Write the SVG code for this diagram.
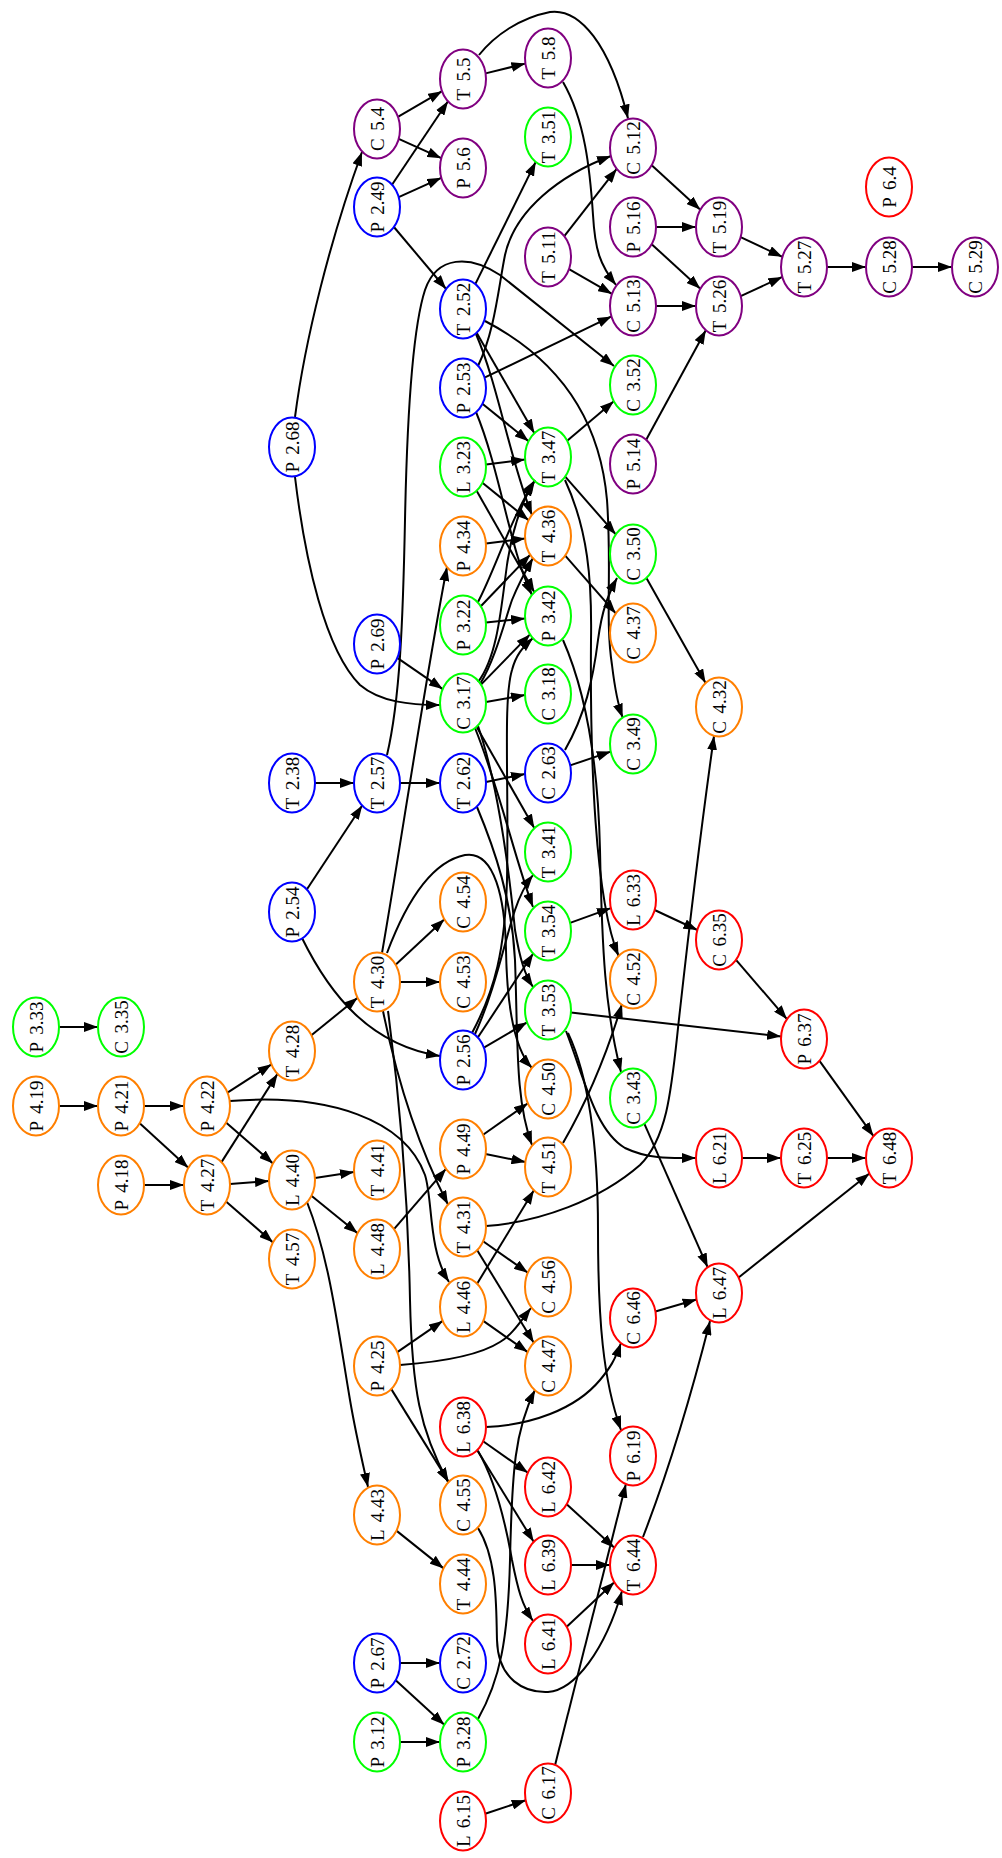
<svg xmlns="http://www.w3.org/2000/svg" width="1002" height="1858" viewBox="0 0 1002 1858">
<style>
.n ellipse{fill:none;stroke-width:2}
.pu{stroke:#800080}.bl{stroke:#0000ff}.gr{stroke:#00ff00}.or{stroke:#ff7f00}.rd{stroke:#ff0000}
.n text{font-family:"Liberation Serif",serif;font-size:19px;word-spacing:3px;text-anchor:middle;fill:#000}
#edges path{fill:none;stroke:#000;stroke-width:2;marker-end:url(#a)}
</style>
<defs>
<marker id="a" markerWidth="14" markerHeight="10" refX="14" refY="5" orient="auto" markerUnits="userSpaceOnUse"><path d="M0,0 L14,5 L0,10 z" fill="#000"/></marker>
</defs>
<rect width="1002" height="1858" fill="#fff"/>
<g id="edges">
<path d="M59,1027 L98,1027"/>
<path d="M59,1106 L98,1106"/>
<path d="M144,1106 L184,1106"/>
<path d="M139.7,1123.2 L188.3,1167.8"/>
<path d="M144,1185 L184,1185"/>
<path d="M227.5,1092.7 L271.5,1064.3"/>
<path d="M226,1122.6 L273,1163.4"/>
<path d="M230,1101 C330,1093 405,1120 425,1175 C433,1200 428,1250 449,1282"/>
<path d="M221.5,1162.1 L277.5,1073.9"/>
<path d="M230,1184 L269,1181"/>
<path d="M226,1201.6 L273,1242.4"/>
<path d="M311.4,1035.2 L357.6,997.8"/>
<path d="M315,1178 L354,1172"/>
<path d="M311.4,1195.8 L357.6,1233.2"/>
<path d="M307,1202 C330,1260 338,1330 350,1400 C356,1435 362,1460 368,1487"/>
<path d="M394,1229.2 L446,1168.8"/>
<path d="M315,783 L354,783"/>
<path d="M306.8,889.5 L362.2,805.5"/>
<path d="M302,938 C330,995 370,1045 440,1056"/>
<path d="M400,783 L440,783"/>
<path d="M387,755 C400,700 403,620 405,520 C407,420 412,330 425,290 C437,255 470,255 500,275 L614,366"/>
<path d="M486,782 L525,774"/>
<path d="M477,807 C495,850 512,900 515,960 C518,1040 515,1100 532,1145"/>
<path d="M397.3,657.9 L442.7,689.1"/>
<path d="M295,417 C305,340 330,240 362,152"/>
<path d="M295,477 C305,560 325,650 360,685 C380,702 410,705 440,705"/>
<path d="M392,184.7 L448,101.3"/>
<path d="M398.7,197.2 L441.3,177.8"/>
<path d="M393.9,227 L446.1,289"/>
<path d="M397.9,116.8 L442.1,91.2"/>
<path d="M398.7,138.8 L441.3,158.2"/>
<path d="M485.6,73.4 L525.4,63.6"/>
<path d="M479,55 C495,35 520,18 550,12 C580,8 610,45 628,118.5"/>
<path d="M563,82 C585,120 590,170 593,215 C595,250 600,265 616,285"/>
<path d="M564.3,236.1 L616.7,168.9"/>
<path d="M569,269.1 L612,293.9"/>
<path d="M651.7,165.2 L700.3,209.8"/>
<path d="M656,227 L696,227"/>
<path d="M651.7,244.2 L700.3,288.8"/>
<path d="M656,306 L696,306"/>
<path d="M646.2,439.8 L705.8,330.2"/>
<path d="M740.6,237.2 L782.4,256.8"/>
<path d="M740.7,296.1 L782.3,276.9"/>
<path d="M827,267 L866,267"/>
<path d="M912,267 L952,267"/>
<path d="M475.3,284.1 L535.7,161.9"/>
<path d="M478,366 C495,330 498,290 505,255 C515,210 560,175 611,156"/>
<path d="M484.5,377.6 L611.5,316.4"/>
<path d="M476.6,332.8 L534.4,433.2"/>
<path d="M482.4,403.8 L528.6,441.2"/>
<path d="M486,464.5 L525,459.5"/>
<path d="M476,334 C498,385 510,460 532,515"/>
<path d="M476,412 C500,470 510,550 532,595"/>
<path d="M482.4,482.8 L528.6,520.2"/>
<path d="M476.6,490.8 L534.4,592.2"/>
<path d="M486,543.5 L525,538.5"/>
<path d="M485,321 C560,360 600,420 607,500 C612,570 605,620 612,665 C615,690 618,705 622.7,717.7"/>
<path d="M567.2,440.7 L613.8,401.3"/>
<path d="M565.2,476.6 L615.8,534.4"/>
<path d="M565,480 C588,530 592,580 591,640 C590,760 595,900 618.6,956"/>
<path d="M563,640 C585,690 598,760 600,850 C602,950 605,1010 621,1072"/>
<path d="M565.2,555.6 L615.8,613.4"/>
<path d="M646.4,577.9 L705.6,683.1"/>
<path d="M478,602 C495,570 510,520 535,480"/>
<path d="M480.8,606.3 L530.2,554.7"/>
<path d="M486,622.5 L525,618.5"/>
<path d="M478,682 C495,660 500,620 505,580 C510,535 520,505 534,482"/>
<path d="M480,684 C495,660 505,620 512,600 C518,585 525,572 533,558"/>
<path d="M481,684.6 L530,634.4"/>
<path d="M486,702 L525,695"/>
<path d="M476.6,726.8 L534.4,828.2"/>
<path d="M475,728 C500,790 515,860 533,907"/>
<path d="M478,726 C500,790 510,880 515,930 C520,960 525,975 533,987"/>
<path d="M570.2,765.4 L610.8,751.6"/>
<path d="M565,750 C585,715 593,680 598,640 C602,610 608,595 617,578"/>
<path d="M570.1,922.9 L610.9,908.1"/>
<path d="M654.6,910 L697.4,930"/>
<path d="M736,959.8 L787,1019.2"/>
<path d="M819.5,1060.8 L873.5,1136.2"/>
<path d="M570.9,1012.6 L781.1,1036.4"/>
<path d="M566,1031 C585,1080 595,1130 625,1148 C650,1160 675,1158 696,1158"/>
<path d="M568,1033 C590,1080 598,1150 598,1230 C598,1320 603,1380 621,1430"/>
<path d="M742,1158 L781,1158"/>
<path d="M827,1158 L866,1158"/>
<path d="M483.9,1047.7 L527.1,1022.3"/>
<path d="M477.8,1037.5 L533.2,953.5"/>
<path d="M475,1034 C495,990 505,940 515,910 C520,895 525,885 533,875"/>
<path d="M472,1033 C495,990 505,950 507,880 C509,780 503,700 512,670 C516,655 522,648 533,638"/>
<path d="M483.1,1134.8 L527.9,1103.2"/>
<path d="M485.5,1154 L525.5,1162"/>
<path d="M395.6,964.7 L444.4,919.3"/>
<path d="M400,982 L440,982"/>
<path d="M382,953 C400,850 425,680 447,567"/>
<path d="M387,953 C405,905 430,862 465,855 C495,850 505,900 506,950 C507,1010 515,1050 532,1068"/>
<path d="M383,1011 C395,1070 415,1140 448,1204.6"/>
<path d="M388,1011 C400,1100 408,1200 410,1300 C412,1390 420,1430 448,1482"/>
<path d="M486,1226 C540,1222 600,1200 640,1165 C670,1135 672,1080 680,1010 C690,920 705,800 714,736"/>
<path d="M483.1,1241.2 L527.9,1272.8"/>
<path d="M477.2,1250.2 L533.8,1342.8"/>
<path d="M477.1,1283.7 L533.9,1190.3"/>
<path d="M483.3,1320.9 L527.7,1352.1"/>
<path d="M397.3,1352.1 L442.7,1320.9"/>
<path d="M400,1365 C440,1362 480,1355 500,1342 C512,1335 520,1322 531,1308"/>
<path d="M391.3,1389.1 L448.7,1481.9"/>
<path d="M396.4,1530.6 L443.6,1568.4"/>
<path d="M400,1663 L440,1663"/>
<path d="M395.7,1680.2 L444.3,1724.8"/>
<path d="M400,1742 L440,1742"/>
<path d="M478,1719 C500,1680 508,1640 510,1560 C512,1470 515,1430 535,1390"/>
<path d="M485.2,1813.7 L525.8,1800.3"/>
<path d="M555.1,1764.9 L625.9,1483.9"/>
<path d="M486,1427 C530,1425 575,1410 600,1380 C610,1368 615,1360 621,1343"/>
<path d="M483.1,1441.2 L527.9,1472.8"/>
<path d="M477.3,1450.2 L533.7,1541.8"/>
<path d="M478,1451 C495,1480 505,1520 512,1560 C518,1590 522,1605 533,1621"/>
<path d="M566.7,1504.2 L614.3,1547.8"/>
<path d="M571,1565 L610,1565"/>
<path d="M566.7,1626.8 L614.3,1582.2"/>
<path d="M478,1528 C498,1560 496,1610 497,1640 C498,1680 525,1693 548,1692 C575,1690 605,1650 622,1591"/>
<path d="M643,1537 C665,1480 690,1400 710,1321"/>
<path d="M655.4,1311.5 L696.6,1299.5"/>
<path d="M644.3,1123.7 L707.7,1267.3"/>
<path d="M738.6,1277.5 L869.4,1173.5"/>
<path d="M563,1143 C585,1105 605,1060 622,1004"/>
</g>
<g id="n-T5-5" class="n" transform="translate(463,79)"><ellipse class="pu" rx="23" ry="29.5"/><text transform="rotate(-90)" y="6.5">T 5.5</text></g>
<g id="n-C5-4" class="n" transform="translate(377,129)"><ellipse class="pu" rx="23" ry="29.5"/><text transform="rotate(-90)" y="6.5">C 5.4</text></g>
<g id="n-P5-6" class="n" transform="translate(463,168)"><ellipse class="pu" rx="23" ry="29.5"/><text transform="rotate(-90)" y="6.5">P 5.6</text></g>
<g id="n-T5-8" class="n" transform="translate(548,58)"><ellipse class="pu" rx="23" ry="29.5"/><text transform="rotate(-90)" y="6.5">T 5.8</text></g>
<g id="n-T5-11" class="n" transform="translate(548,257)"><ellipse class="pu" rx="23" ry="29.5"/><text transform="rotate(-90)" y="6.5">T 5.11</text></g>
<g id="n-C5-12" class="n" transform="translate(633,148)"><ellipse class="pu" rx="23" ry="29.5"/><text transform="rotate(-90)" y="6.5">C 5.12</text></g>
<g id="n-P5-16" class="n" transform="translate(633,227)"><ellipse class="pu" rx="23" ry="29.5"/><text transform="rotate(-90)" y="6.5">P 5.16</text></g>
<g id="n-C5-13" class="n" transform="translate(633,306)"><ellipse class="pu" rx="23" ry="29.5"/><text transform="rotate(-90)" y="6.5">C 5.13</text></g>
<g id="n-P5-14" class="n" transform="translate(633,464)"><ellipse class="pu" rx="23" ry="29.5"/><text transform="rotate(-90)" y="6.5">P 5.14</text></g>
<g id="n-T5-19" class="n" transform="translate(719,227)"><ellipse class="pu" rx="23" ry="29.5"/><text transform="rotate(-90)" y="6.5">T 5.19</text></g>
<g id="n-T5-26" class="n" transform="translate(719,306)"><ellipse class="pu" rx="23" ry="29.5"/><text transform="rotate(-90)" y="6.5">T 5.26</text></g>
<g id="n-T5-27" class="n" transform="translate(804,267)"><ellipse class="pu" rx="23" ry="29.5"/><text transform="rotate(-90)" y="6.5">T 5.27</text></g>
<g id="n-C5-28" class="n" transform="translate(889,267)"><ellipse class="pu" rx="23" ry="29.5"/><text transform="rotate(-90)" y="6.5">C 5.28</text></g>
<g id="n-C5-29" class="n" transform="translate(975,267)"><ellipse class="pu" rx="23" ry="29.5"/><text transform="rotate(-90)" y="6.5">C 5.29</text></g>
<g id="n-P2-49" class="n" transform="translate(377,207)"><ellipse class="bl" rx="23" ry="29.5"/><text transform="rotate(-90)" y="6.5">P 2.49</text></g>
<g id="n-T2-52" class="n" transform="translate(463,309)"><ellipse class="bl" rx="23" ry="29.5"/><text transform="rotate(-90)" y="6.5">T 2.52</text></g>
<g id="n-P2-53" class="n" transform="translate(463,388)"><ellipse class="bl" rx="23" ry="29.5"/><text transform="rotate(-90)" y="6.5">P 2.53</text></g>
<g id="n-P2-68" class="n" transform="translate(292,447)"><ellipse class="bl" rx="23" ry="29.5"/><text transform="rotate(-90)" y="6.5">P 2.68</text></g>
<g id="n-P2-69" class="n" transform="translate(377,644)"><ellipse class="bl" rx="23" ry="29.5"/><text transform="rotate(-90)" y="6.5">P 2.69</text></g>
<g id="n-T2-38" class="n" transform="translate(292,783)"><ellipse class="bl" rx="23" ry="29.5"/><text transform="rotate(-90)" y="6.5">T 2.38</text></g>
<g id="n-T2-57" class="n" transform="translate(377,783)"><ellipse class="bl" rx="23" ry="29.5"/><text transform="rotate(-90)" y="6.5">T 2.57</text></g>
<g id="n-T2-62" class="n" transform="translate(463,783)"><ellipse class="bl" rx="23" ry="29.5"/><text transform="rotate(-90)" y="6.5">T 2.62</text></g>
<g id="n-C2-63" class="n" transform="translate(548,773)"><ellipse class="bl" rx="23" ry="29.5"/><text transform="rotate(-90)" y="6.5">C 2.63</text></g>
<g id="n-P2-54" class="n" transform="translate(292,912)"><ellipse class="bl" rx="23" ry="29.5"/><text transform="rotate(-90)" y="6.5">P 2.54</text></g>
<g id="n-P2-56" class="n" transform="translate(463,1060)"><ellipse class="bl" rx="23" ry="29.5"/><text transform="rotate(-90)" y="6.5">P 2.56</text></g>
<g id="n-P2-67" class="n" transform="translate(377,1663)"><ellipse class="bl" rx="23" ry="29.5"/><text transform="rotate(-90)" y="6.5">P 2.67</text></g>
<g id="n-C2-72" class="n" transform="translate(463,1663)"><ellipse class="bl" rx="23" ry="29.5"/><text transform="rotate(-90)" y="6.5">C 2.72</text></g>
<g id="n-T3-51" class="n" transform="translate(548,137)"><ellipse class="gr" rx="23" ry="29.5"/><text transform="rotate(-90)" y="6.5">T 3.51</text></g>
<g id="n-C3-52" class="n" transform="translate(633,385)"><ellipse class="gr" rx="23" ry="29.5"/><text transform="rotate(-90)" y="6.5">C 3.52</text></g>
<g id="n-T3-47" class="n" transform="translate(548,457)"><ellipse class="gr" rx="23" ry="29.5"/><text transform="rotate(-90)" y="6.5">T 3.47</text></g>
<g id="n-L3-23" class="n" transform="translate(463,467)"><ellipse class="gr" rx="23" ry="29.5"/><text transform="rotate(-90)" y="6.5">L 3.23</text></g>
<g id="n-P3-22" class="n" transform="translate(463,625)"><ellipse class="gr" rx="23" ry="29.5"/><text transform="rotate(-90)" y="6.5">P 3.22</text></g>
<g id="n-C3-50" class="n" transform="translate(633,554)"><ellipse class="gr" rx="23" ry="29.5"/><text transform="rotate(-90)" y="6.5">C 3.50</text></g>
<g id="n-P3-42" class="n" transform="translate(548,616)"><ellipse class="gr" rx="23" ry="29.5"/><text transform="rotate(-90)" y="6.5">P 3.42</text></g>
<g id="n-C3-17" class="n" transform="translate(463,703)"><ellipse class="gr" rx="23" ry="29.5"/><text transform="rotate(-90)" y="6.5">C 3.17</text></g>
<g id="n-C3-18" class="n" transform="translate(548,694)"><ellipse class="gr" rx="23" ry="29.5"/><text transform="rotate(-90)" y="6.5">C 3.18</text></g>
<g id="n-C3-49" class="n" transform="translate(633,744)"><ellipse class="gr" rx="23" ry="29.5"/><text transform="rotate(-90)" y="6.5">C 3.49</text></g>
<g id="n-T3-41" class="n" transform="translate(548,852)"><ellipse class="gr" rx="23" ry="29.5"/><text transform="rotate(-90)" y="6.5">T 3.41</text></g>
<g id="n-T3-54" class="n" transform="translate(548,931)"><ellipse class="gr" rx="23" ry="29.5"/><text transform="rotate(-90)" y="6.5">T 3.54</text></g>
<g id="n-T3-53" class="n" transform="translate(548,1010)"><ellipse class="gr" rx="23" ry="29.5"/><text transform="rotate(-90)" y="6.5">T 3.53</text></g>
<g id="n-C3-43" class="n" transform="translate(633,1098)"><ellipse class="gr" rx="23" ry="29.5"/><text transform="rotate(-90)" y="6.5">C 3.43</text></g>
<g id="n-P3-33" class="n" transform="translate(36,1027)"><ellipse class="gr" rx="23" ry="29.5"/><text transform="rotate(-90)" y="6.5">P 3.33</text></g>
<g id="n-C3-35" class="n" transform="translate(121,1027)"><ellipse class="gr" rx="23" ry="29.5"/><text transform="rotate(-90)" y="6.5">C 3.35</text></g>
<g id="n-P3-12" class="n" transform="translate(377,1742)"><ellipse class="gr" rx="23" ry="29.5"/><text transform="rotate(-90)" y="6.5">P 3.12</text></g>
<g id="n-P3-28" class="n" transform="translate(463,1742)"><ellipse class="gr" rx="23" ry="29.5"/><text transform="rotate(-90)" y="6.5">P 3.28</text></g>
<g id="n-P4-34" class="n" transform="translate(463,546)"><ellipse class="or" rx="23" ry="29.5"/><text transform="rotate(-90)" y="6.5">P 4.34</text></g>
<g id="n-T4-36" class="n" transform="translate(548,536)"><ellipse class="or" rx="23" ry="29.5"/><text transform="rotate(-90)" y="6.5">T 4.36</text></g>
<g id="n-C4-37" class="n" transform="translate(633,633)"><ellipse class="or" rx="23" ry="29.5"/><text transform="rotate(-90)" y="6.5">C 4.37</text></g>
<g id="n-C4-32" class="n" transform="translate(719,707)"><ellipse class="or" rx="23" ry="29.5"/><text transform="rotate(-90)" y="6.5">C 4.32</text></g>
<g id="n-C4-54" class="n" transform="translate(463,902)"><ellipse class="or" rx="23" ry="29.5"/><text transform="rotate(-90)" y="6.5">C 4.54</text></g>
<g id="n-T4-30" class="n" transform="translate(377,982)"><ellipse class="or" rx="23" ry="29.5"/><text transform="rotate(-90)" y="6.5">T 4.30</text></g>
<g id="n-C4-53" class="n" transform="translate(463,982)"><ellipse class="or" rx="23" ry="29.5"/><text transform="rotate(-90)" y="6.5">C 4.53</text></g>
<g id="n-C4-52" class="n" transform="translate(633,979)"><ellipse class="or" rx="23" ry="29.5"/><text transform="rotate(-90)" y="6.5">C 4.52</text></g>
<g id="n-T4-28" class="n" transform="translate(292,1051)"><ellipse class="or" rx="23" ry="29.5"/><text transform="rotate(-90)" y="6.5">T 4.28</text></g>
<g id="n-P4-19" class="n" transform="translate(36,1106)"><ellipse class="or" rx="23" ry="29.5"/><text transform="rotate(-90)" y="6.5">P 4.19</text></g>
<g id="n-P4-21" class="n" transform="translate(121,1106)"><ellipse class="or" rx="23" ry="29.5"/><text transform="rotate(-90)" y="6.5">P 4.21</text></g>
<g id="n-P4-22" class="n" transform="translate(207,1106)"><ellipse class="or" rx="23" ry="29.5"/><text transform="rotate(-90)" y="6.5">P 4.22</text></g>
<g id="n-C4-50" class="n" transform="translate(548,1089)"><ellipse class="or" rx="23" ry="29.5"/><text transform="rotate(-90)" y="6.5">C 4.50</text></g>
<g id="n-P4-49" class="n" transform="translate(463,1149)"><ellipse class="or" rx="23" ry="29.5"/><text transform="rotate(-90)" y="6.5">P 4.49</text></g>
<g id="n-T4-41" class="n" transform="translate(377,1170)"><ellipse class="or" rx="23" ry="29.5"/><text transform="rotate(-90)" y="6.5">T 4.41</text></g>
<g id="n-T4-51" class="n" transform="translate(548,1167)"><ellipse class="or" rx="23" ry="29.5"/><text transform="rotate(-90)" y="6.5">T 4.51</text></g>
<g id="n-L4-40" class="n" transform="translate(292,1180)"><ellipse class="or" rx="23" ry="29.5"/><text transform="rotate(-90)" y="6.5">L 4.40</text></g>
<g id="n-P4-18" class="n" transform="translate(121,1185)"><ellipse class="or" rx="23" ry="29.5"/><text transform="rotate(-90)" y="6.5">P 4.18</text></g>
<g id="n-T4-27" class="n" transform="translate(207,1185)"><ellipse class="or" rx="23" ry="29.5"/><text transform="rotate(-90)" y="6.5">T 4.27</text></g>
<g id="n-T4-31" class="n" transform="translate(463,1227)"><ellipse class="or" rx="23" ry="29.5"/><text transform="rotate(-90)" y="6.5">T 4.31</text></g>
<g id="n-L4-48" class="n" transform="translate(377,1249)"><ellipse class="or" rx="23" ry="29.5"/><text transform="rotate(-90)" y="6.5">L 4.48</text></g>
<g id="n-T4-57" class="n" transform="translate(292,1259)"><ellipse class="or" rx="23" ry="29.5"/><text transform="rotate(-90)" y="6.5">T 4.57</text></g>
<g id="n-C4-56" class="n" transform="translate(548,1287)"><ellipse class="or" rx="23" ry="29.5"/><text transform="rotate(-90)" y="6.5">C 4.56</text></g>
<g id="n-L4-46" class="n" transform="translate(463,1307)"><ellipse class="or" rx="23" ry="29.5"/><text transform="rotate(-90)" y="6.5">L 4.46</text></g>
<g id="n-P4-25" class="n" transform="translate(377,1366)"><ellipse class="or" rx="23" ry="29.5"/><text transform="rotate(-90)" y="6.5">P 4.25</text></g>
<g id="n-C4-47" class="n" transform="translate(548,1366)"><ellipse class="or" rx="23" ry="29.5"/><text transform="rotate(-90)" y="6.5">C 4.47</text></g>
<g id="n-C4-55" class="n" transform="translate(463,1505)"><ellipse class="or" rx="23" ry="29.5"/><text transform="rotate(-90)" y="6.5">C 4.55</text></g>
<g id="n-L4-43" class="n" transform="translate(377,1515)"><ellipse class="or" rx="23" ry="29.5"/><text transform="rotate(-90)" y="6.5">L 4.43</text></g>
<g id="n-T4-44" class="n" transform="translate(463,1584)"><ellipse class="or" rx="23" ry="29.5"/><text transform="rotate(-90)" y="6.5">T 4.44</text></g>
<g id="n-P6-4" class="n" transform="translate(889,187)"><ellipse class="rd" rx="23" ry="29.5"/><text transform="rotate(-90)" y="6.5">P 6.4</text></g>
<g id="n-L6-33" class="n" transform="translate(633,900)"><ellipse class="rd" rx="23" ry="29.5"/><text transform="rotate(-90)" y="6.5">L 6.33</text></g>
<g id="n-C6-35" class="n" transform="translate(719,940)"><ellipse class="rd" rx="23" ry="29.5"/><text transform="rotate(-90)" y="6.5">C 6.35</text></g>
<g id="n-P6-37" class="n" transform="translate(804,1039)"><ellipse class="rd" rx="23" ry="29.5"/><text transform="rotate(-90)" y="6.5">P 6.37</text></g>
<g id="n-L6-21" class="n" transform="translate(719,1158)"><ellipse class="rd" rx="23" ry="29.5"/><text transform="rotate(-90)" y="6.5">L 6.21</text></g>
<g id="n-T6-25" class="n" transform="translate(804,1158)"><ellipse class="rd" rx="23" ry="29.5"/><text transform="rotate(-90)" y="6.5">T 6.25</text></g>
<g id="n-T6-48" class="n" transform="translate(889,1158)"><ellipse class="rd" rx="23" ry="29.5"/><text transform="rotate(-90)" y="6.5">T 6.48</text></g>
<g id="n-L6-47" class="n" transform="translate(719,1293)"><ellipse class="rd" rx="23" ry="29.5"/><text transform="rotate(-90)" y="6.5">L 6.47</text></g>
<g id="n-C6-46" class="n" transform="translate(633,1318)"><ellipse class="rd" rx="23" ry="29.5"/><text transform="rotate(-90)" y="6.5">C 6.46</text></g>
<g id="n-L6-38" class="n" transform="translate(463,1427)"><ellipse class="rd" rx="23" ry="29.5"/><text transform="rotate(-90)" y="6.5">L 6.38</text></g>
<g id="n-P6-19" class="n" transform="translate(633,1456)"><ellipse class="rd" rx="23" ry="29.5"/><text transform="rotate(-90)" y="6.5">P 6.19</text></g>
<g id="n-L6-42" class="n" transform="translate(548,1487)"><ellipse class="rd" rx="23" ry="29.5"/><text transform="rotate(-90)" y="6.5">L 6.42</text></g>
<g id="n-L6-39" class="n" transform="translate(548,1565)"><ellipse class="rd" rx="23" ry="29.5"/><text transform="rotate(-90)" y="6.5">L 6.39</text></g>
<g id="n-T6-44" class="n" transform="translate(633,1565)"><ellipse class="rd" rx="23" ry="29.5"/><text transform="rotate(-90)" y="6.5">T 6.44</text></g>
<g id="n-L6-41" class="n" transform="translate(548,1644)"><ellipse class="rd" rx="23" ry="29.5"/><text transform="rotate(-90)" y="6.5">L 6.41</text></g>
<g id="n-C6-17" class="n" transform="translate(548,1793)"><ellipse class="rd" rx="23" ry="29.5"/><text transform="rotate(-90)" y="6.5">C 6.17</text></g>
<g id="n-L6-15" class="n" transform="translate(463,1821)"><ellipse class="rd" rx="23" ry="29.5"/><text transform="rotate(-90)" y="6.5">L 6.15</text></g>
</svg>
